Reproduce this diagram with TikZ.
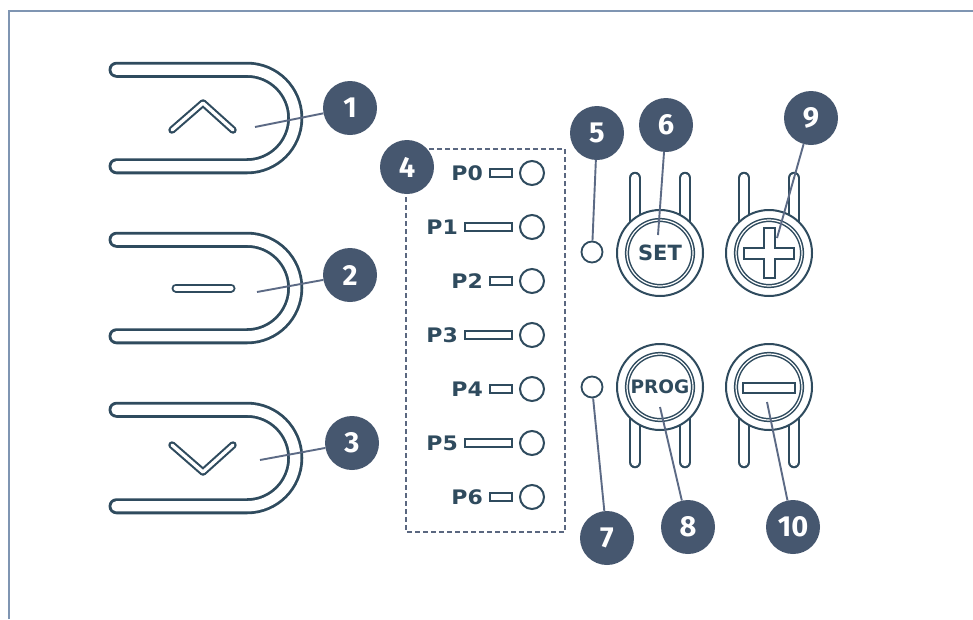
\documentclass[tikz,border=0pt]{standalone}
\usepackage{fontspec}
\usepackage{graphicx}
\newfontfamily\djv{DejaVu Sans}
\newfontfamily\fira{Fira Sans}
\definecolor{ink}{HTML}{2F4B5E}
\definecolor{badgec}{HTML}{46576F}
\definecolor{leadc}{HTML}{5C6A85}
\definecolor{framec}{HTML}{7F95B2}
\definecolor{dashc}{HTML}{5A6780}
\begin{document}
\begin{tikzpicture}[x=1pt,y=1pt,
  tubeo/.style={draw=ink, line width=16pt, line cap=round},
  tubei/.style={draw=white, line width=10.4pt, line cap=round},
  glyo/.style={draw=ink, line width=7.5pt, line cap=round, line join=round},
  glyi/.style={draw=white, line width=3.3pt, line cap=round, line join=round},
  lego/.style={draw=ink, line width=12.5pt, line cap=round},
  legi/.style={draw=white, line width=8.3pt, line cap=round},
  badge/.style={circle, fill=badgec, text=white, minimum size=54pt, inner sep=0pt,
    font=\fira\bfseries\fontsize{29}{29}\selectfont},
  leader/.style={draw=leadc, line width=1.9pt},
  bar/.style={rectangle, draw=ink, fill=white, line width=2pt, minimum height=8pt, inner sep=0pt},
  led/.style={circle, draw=ink, fill=white, line width=2pt, minimum size=24pt, inner sep=0pt},
  sled/.style={circle, draw=ink, fill=white, line width=1.8pt, minimum size=21pt, inner sep=0pt},
  plabel/.style={text=ink, inner sep=0pt, font=\djv\bfseries\fontsize{20}{20}\selectfont},
  btn/.style={circle, draw=ink, fill=white, line width=2pt, minimum size=86pt, inner sep=0pt},
  ring/.style={draw=ink, line width=1.5pt, double=white, double distance=1.2pt},
  btntext/.style={text=ink, inner sep=0pt}
]
\useasboundingbox (0,0) rectangle (973,-619);
\fill[white] (0,0) rectangle (973,-619);
% frame
\draw[framec, line width=2pt] (9,-619) -- (9,-11) -- (973,-11);

% left buttons
\foreach \c in {118,288,458}{
  \begin{scope}[yshift=-\c pt]
    \draw[tubeo] (116.5,48.25) -- (247,48.25) arc (90:-90:48.25) -- (116.5,-48.25);
    \draw[tubei] (116.5,48.25) -- (247,48.25) arc (90:-90:48.25) -- (116.5,-48.25);
  \end{scope}
}
% glyphs
\draw[glyo] (172,-130) -- (203,-103) -- (233,-130);
\draw[glyi] (172,-130) -- (203,-103) -- (233,-130);
\draw[draw=ink, line width=9pt, line cap=round] (176,-288) -- (231,-288);
\draw[draw=white, line width=5pt, line cap=round] (176,-288) -- (231,-288);
\draw[glyo] (172,-445) -- (203,-472) -- (233,-445);
\draw[glyi] (172,-445) -- (203,-472) -- (233,-445);

% LED panel
\draw[dashc, line width=1.6pt, dash pattern=on 5pt off 3pt] (406,-149) rectangle (565,-532);
\foreach \i/\y/\w in {0/173/22, 1/227/47, 2/281/22, 3/335/47, 4/389/22, 5/443/47, 6/497/22}{
  \node[bar, minimum width=\w pt, anchor=east] (bar\i) at (513,-\y) {};
  \node[plabel, anchor=east] (p\i) at ([xshift=-6pt]bar\i.west) {\scalebox{1.1}[1]{P\i}};
  \node[led] (led\i) at (532,-\y) {};
}

% SET button
\draw[lego] (635,-178) -- (635,-253);
\draw[legi] (635,-178) -- (635,-253);
\draw[lego] (685,-178) -- (685,-253);
\draw[legi] (685,-178) -- (685,-253);
\node[btn] (set) at (660,-253) {};
\draw[ring] (set.center) circle (33);
\node[btntext, font=\djv\bfseries\fontsize{21}{21}\selectfont] (settxt) at (660,-253) {SET};

% PLUS button
\draw[lego] (744,-178) -- (744,-253);
\draw[legi] (744,-178) -- (744,-253);
\draw[lego] (794,-178) -- (794,-253);
\draw[legi] (794,-178) -- (794,-253);
\node[btn] (plus) at (769,-253) {};
\draw[ring] (plus.center) circle (33);
\draw[draw=ink, fill=white, line width=2pt, shift={(769,-253)}]
  (-5.5,25) -- (5.5,25) -- (5.5,5.5) -- (25,5.5) -- (25,-5.5) -- (5.5,-5.5) -- (5.5,-25)
  -- (-5.5,-25) -- (-5.5,-5.5) -- (-25,-5.5) -- (-25,5.5) -- (-5.5,5.5) -- cycle;

% PROG button
\draw[lego] (635,-462) -- (635,-387);
\draw[legi] (635,-462) -- (635,-387);
\draw[lego] (685,-462) -- (685,-387);
\draw[legi] (685,-462) -- (685,-387);
\node[btn] (prog) at (660,-387) {};
\draw[ring] (prog.center) circle (33);
\node[btntext, font=\djv\bfseries\fontsize{18.5}{18.5}\selectfont] (progtxt) at (660,-387) {PROG};

% MINUS button
\draw[lego] (744,-462) -- (744,-387);
\draw[legi] (744,-462) -- (744,-387);
\draw[lego] (794,-462) -- (794,-387);
\draw[legi] (794,-462) -- (794,-387);
\node[btn] (minus) at (769,-387) {};
\draw[ring] (minus.center) circle (33);
\draw[draw=ink, fill=white, line width=2pt] (743,-383) rectangle (795,-393);

% small LEDs
\node[sled] (led5) at (592,-252) {};
\node[sled] (led7) at (592,-387) {};

% target coordinates
\coordinate (t1) at (255,-127);
\coordinate (t2) at (257,-292);
\coordinate (t3) at (260,-460);
\coordinate (t6) at (658,-235);
\coordinate (t9) at (777,-238);
\coordinate (t8) at (660,-407);
\coordinate (t10) at (767,-402);

% badges
\node[badge] (b1) at (350,-108) {1};
\node[badge] (b2) at (350,-275) {2};
\node[badge] (b3) at (352,-443) {3};
\node[badge] (b4) at (407,-167) {4};
\node[badge] (b5) at (597,-133) {5};
\node[badge] (b6) at (666,-125) {6};
\node[badge] (b7) at (607,-538) {7};
\node[badge] (b8) at (688,-527) {8};
\node[badge] (b9) at (811,-118) {9};
\node[badge] (b10) at (793,-527) {10};

% leaders
\draw[leader] (b1) -- (t1);
\draw[leader] (b2) -- (t2);
\draw[leader] (b3) -- (t3);
\draw[leader] (b5) -- (led5);
\draw[leader] (b6) -- (t6);
\draw[leader] (b9) -- (t9);
\draw[leader] (b7) -- (led7);
\draw[leader] (b8) -- (t8);
\draw[leader] (b10) -- (t10);
\end{tikzpicture}
\end{document}
